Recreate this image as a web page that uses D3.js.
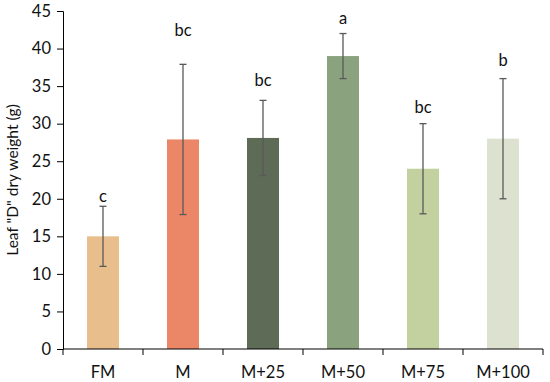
<!DOCTYPE html>
<html>
<head>
<meta charset="utf-8">
<script src="https://cdn.jsdelivr.net/npm/d3@7"></script>
<style>
    body { margin: 0; background: #fff; }
    text { font-family: Lato, "Open Sans", sans-serif; }
</style>
</head>
<body>
<svg id="chart" width="550" height="382"></svg>
<script>
// 处理组
const groups = ["FM", "M", "M+25", "M+50", "M+75", "M+100"];
// 叶片干重均值
const means = [15, 27.9, 28.1, 39, 24, 28];
// 误差（±）
const errors = [4, 10, 5, 3, 6, 8];
// 显著性字母
const letters = ["c", "bc", "bc", "a", "bc", "b"];
// 字母所在高度（y轴单位）
const letterY = [19.6, 41.7, 35.0, 43.3, 31.4, 37.7];
// 柱子颜色
const colors = ["#E8BF8C", "#EB8767", "#5E6B57", "#8AA37E", "#C3D09F", "#DCE2CF"];
const yTicks = d3.range(0, 46, 5);

let svg = d3.select("#chart");
let margin = {left: 63, right: 7, top: 11, bottom: 33};
let width = 550 - margin.left - margin.right;
let height = 382 - margin.top - margin.bottom;

let g = svg.append("g").attr("transform", "translate(" + margin.left + "," + margin.top + ")");

let x = d3.scaleBand().domain(groups).range([0, width]).paddingInner(0.6).paddingOuter(0.3);
let y = d3.scaleLinear().domain([0, 45]).range([height, 0]);

//柱子
g.selectAll("rect.bar")
    .data(groups)
    .enter()
    .append("rect")
    .attr("class", "bar")
    .attr("x", d => x(d))
    .attr("width", x.bandwidth())
    .attr("y", (d, i) => y(means[i]))
    .attr("height", (d, i) => y(0) - y(means[i]))
    .attr("fill", (d, i) => colors[i]);

//误差线
let err = g.selectAll("g.err")
    .data(groups)
    .enter()
    .append("g")
    .attr("class", "err")
    .attr("stroke", "#595959")
    .attr("stroke-width", 1.3);
err.append("line")
    .attr("x1", d => x(d) + x.bandwidth() / 2)
    .attr("x2", d => x(d) + x.bandwidth() / 2)
    .attr("y1", (d, i) => y(means[i] - errors[i]))
    .attr("y2", (d, i) => y(means[i] + errors[i]));
[-1, 1].forEach(s => {
    err.append("line")
        .attr("x1", d => x(d) + x.bandwidth() / 2 - 3.5)
        .attr("x2", d => x(d) + x.bandwidth() / 2 + 3.5)
        .attr("y1", (d, i) => y(means[i] + s * errors[i]))
        .attr("y2", (d, i) => y(means[i] + s * errors[i]));
});

//显著性字母
g.selectAll("text.letter")
    .data(groups)
    .enter()
    .append("text")
    .attr("class", "letter")
    .attr("x", d => x(d) + x.bandwidth() / 2)
    .attr("y", (d, i) => y(letterY[i]))
    .attr("text-anchor", "middle")
    .style("font-size", "16.5px")
    .attr("fill", "#111")
    .text((d, i) => letters[i]);

//y轴
let yAxis = g.append("g")
    .call(d3.axisLeft(y).tickValues(yTicks).tickSizeOuter(0).tickSize(6).tickPadding(6));
yAxis.selectAll("text").style("font-size", "16.5px").attr("fill", "#111");

//x轴（类别间刻度）
let xAxis = g.append("g").attr("transform", "translate(0," + height + ")");
xAxis.append("line").attr("x1", 0).attr("x2", width).attr("stroke", "#000");
let step = x.step();
xAxis.selectAll("line.tick")
    .data(d3.range(groups.length + 1))
    .enter()
    .append("line")
    .attr("class", "tick")
    .attr("x1", d => d * step)
    .attr("x2", d => d * step)
    .attr("y1", 0)
    .attr("y2", 6)
    .attr("stroke", "#000");
xAxis.selectAll("text")
    .data(groups)
    .enter()
    .append("text")
    .attr("x", d => x(d) + x.bandwidth() / 2)
    .attr("y", 29)
    .attr("text-anchor", "middle")
    .style("font-size", "16.5px")
    .attr("fill", "#111")
    .text(d => d);

yAxis.select(".domain").attr("stroke", "#000");
yAxis.selectAll(".tick line").attr("stroke", "#000");

//y轴标题
svg.append("text")
    .attr("transform", "translate(18," + (margin.top + height / 2) + ") rotate(-90)")
    .attr("text-anchor", "middle")
    .style("font-size", "15.5px")
    .attr("fill", "#111")
    .text('Leaf "D" dry weight (g)');
</script>
</body>
</html>
